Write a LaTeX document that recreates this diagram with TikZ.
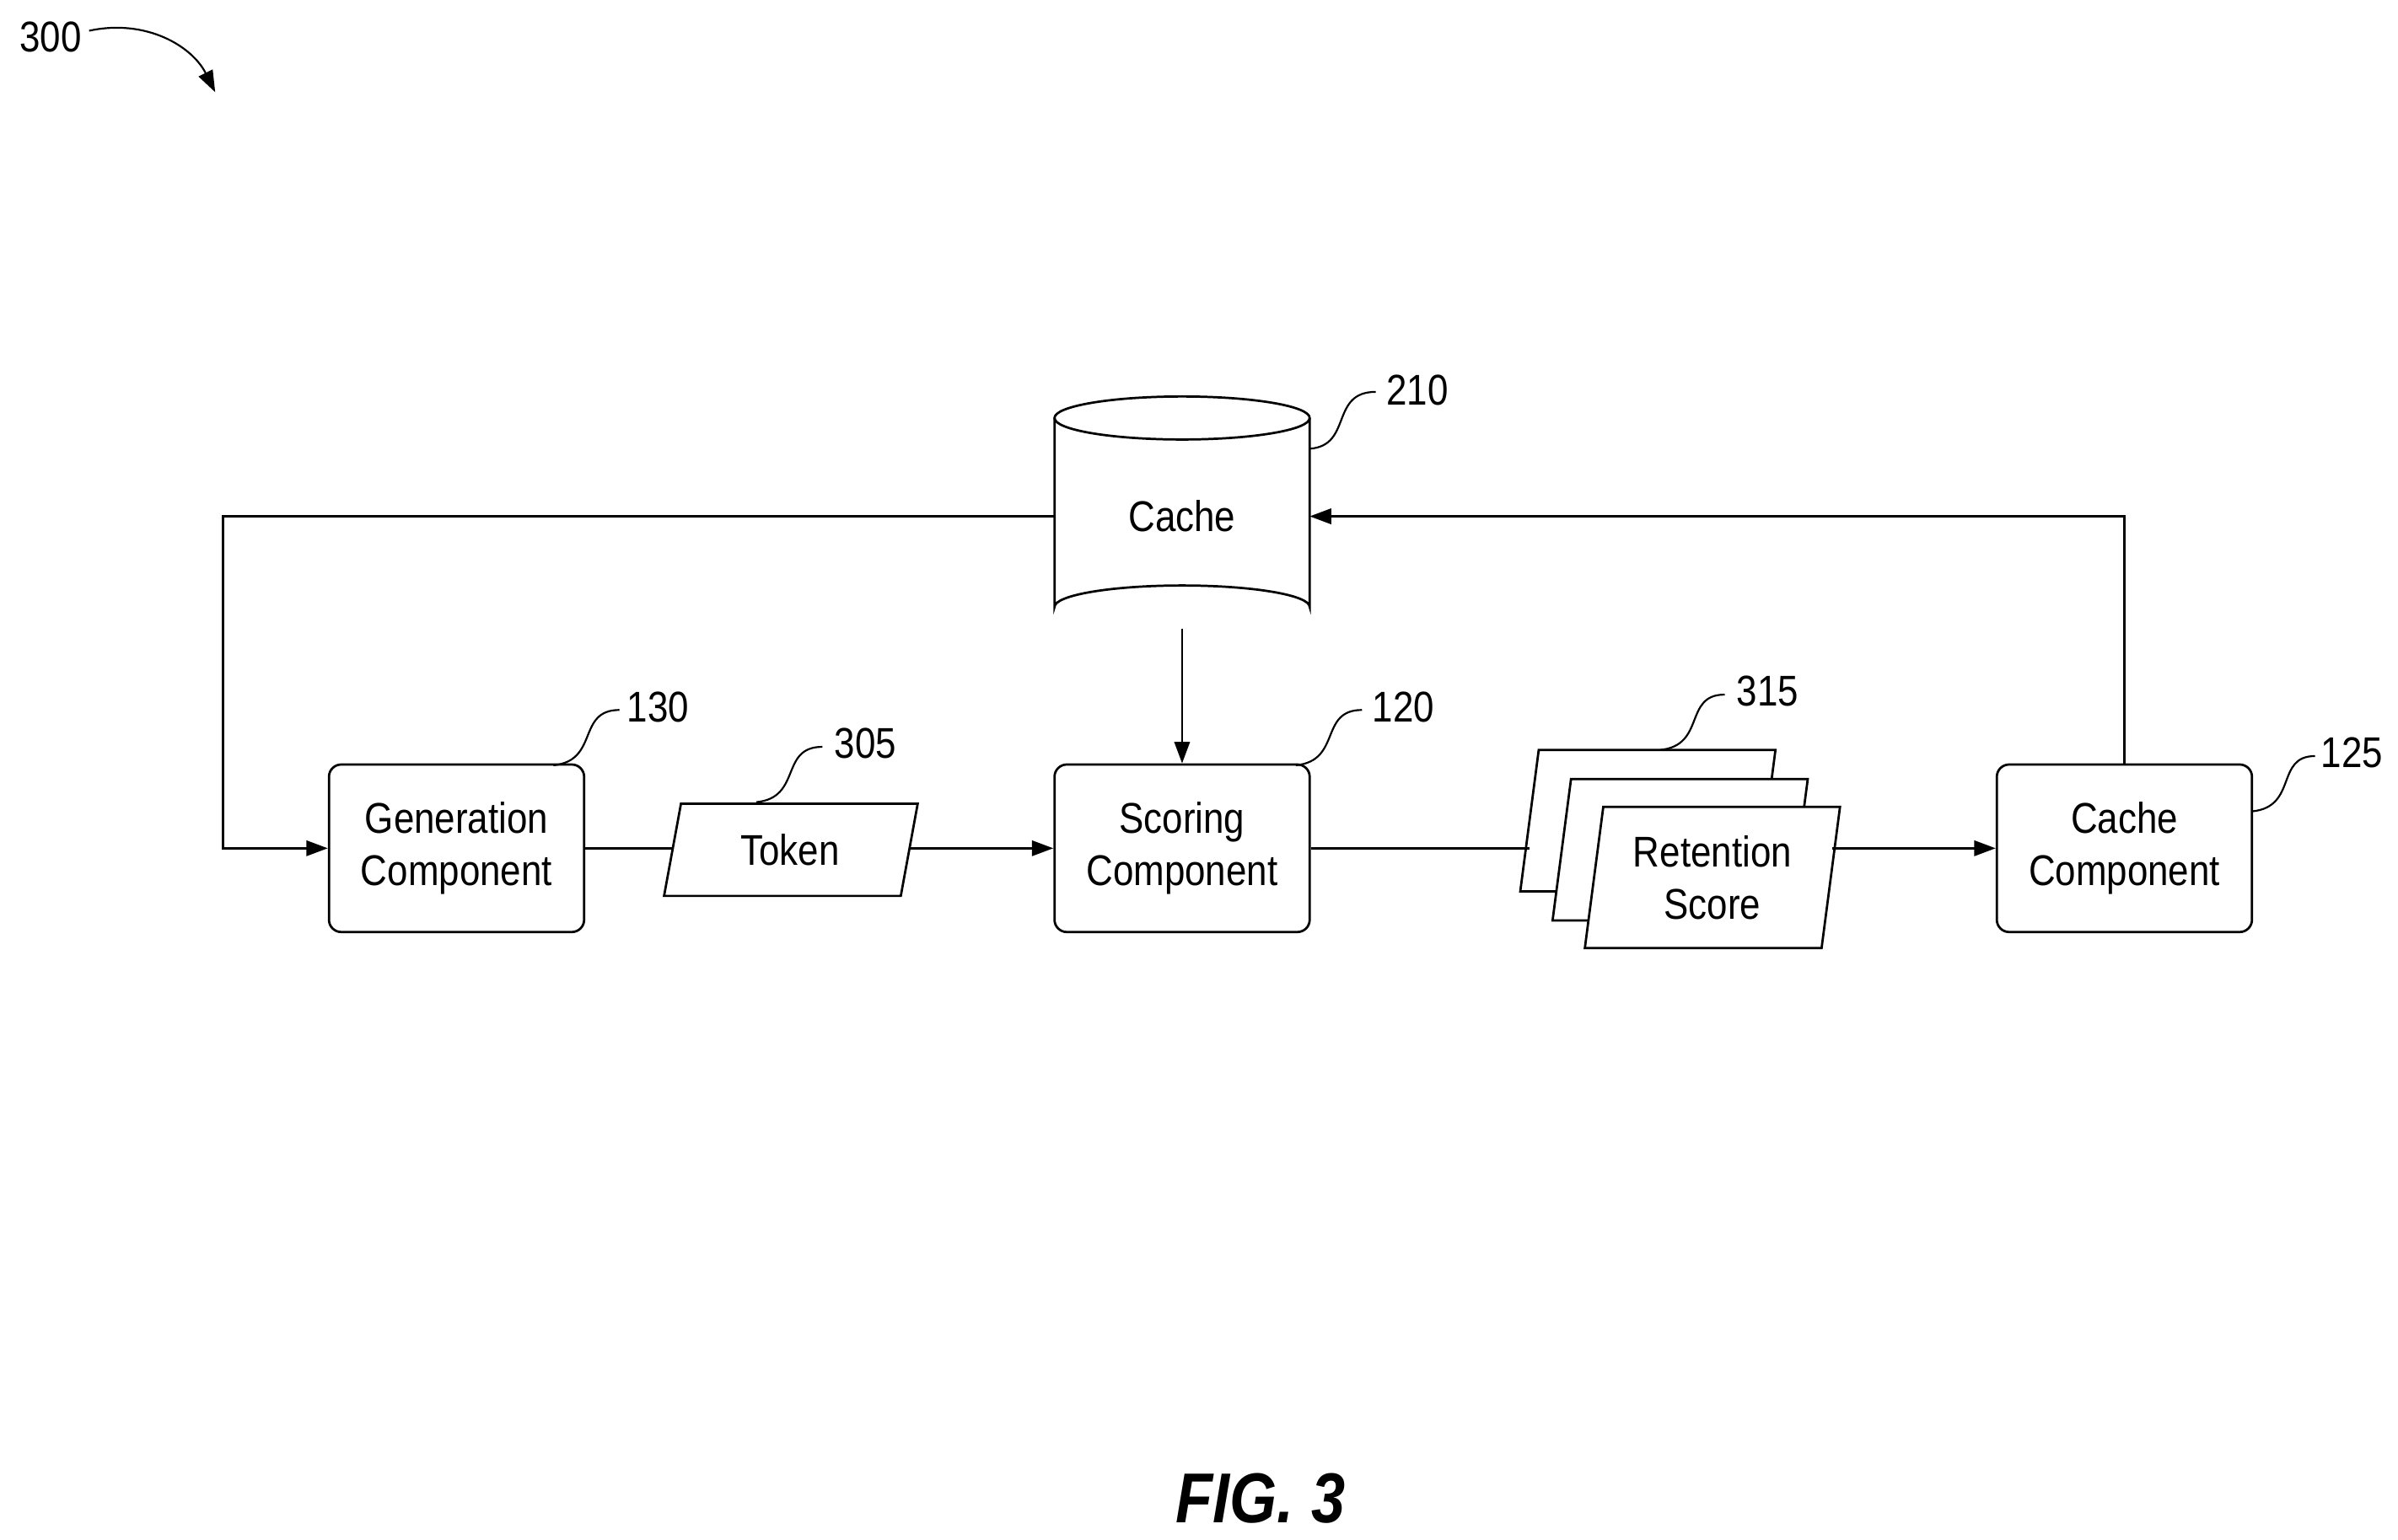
\documentclass[tikz,border=0pt]{standalone}
\usepackage{fontspec}
\setmainfont{Liberation Sans}[FakeStretch=0.86]
\usetikzlibrary{arrows.meta}
\begin{document}
\begin{tikzpicture}[x=1pt,y=-1pt,line width=1.5pt,
  box/.style={draw,rounded corners=8pt,minimum width=166pt,minimum height=109pt,align=center,font=\fontsize{28}{34}\selectfont,inner sep=0pt},
  lbl/.style={font=\fontsize{28}{34}\selectfont},
  arr/.style={-{Triangle[length=14pt,width=10pt]}},
  lead/.style={line width=1.2pt}]
\useasboundingbox (0,0) rectangle (1560,1002);
% 300
\node[lbl] (n300) at (33,24) {300};
\draw[lead,-{Triangle[length=14pt,width=10pt]}] (58,20) .. controls (95,12) and (125,30) .. (140,60);
% cylinder
\draw[fill=white] (686,272) -- (686,395) arc[start angle=180,end angle=360,x radius=83,y radius=14] -- (852,272);
\draw (769,272) ellipse[x radius=83,y radius=14];
\node[lbl] (cache) at (769,336) {Cache};
\coordinate (cacheL) at (686,336);
\coordinate (cacheR) at (852,336);
\coordinate (cacheB) at (769,409);
\node[lbl] (n210) at (922,254) {210};
\draw[lead] (852,292) .. controls (880,290) and (865,255) .. (895,255);
% boxes
\node[box] (gen) at (297,552) {Generation\\Component};
\node[lbl] (n130) at (428,460) {130};
\draw[lead] (360,498) .. controls (390,495) and (375,462) .. (403,462);
\node[box] (score) at (769,552) {Scoring\\Component};
\node[lbl] (n120) at (913,460) {120};
\draw[lead] (843,498) .. controls (873,495) and (858,462) .. (886,462);
\node[box] (cc) at (1382,552) {Cache\\Component};
\node[lbl] (n125) at (1530,490) {125};
\draw[lead] (1465,528) .. controls (1495,525) and (1480,492) .. (1506,492);
% token
\draw (443,523) -- (597,523) -- (586,583) -- (432,583) -- cycle;
\node[lbl] (token) at (514,553) {Token};
\coordinate (tokL) at (437,552);
\coordinate (tokR) at (592,552);
\node[lbl] (n305) at (563,484) {305};
\draw[lead] (492,522) .. controls (522,519) and (507,486) .. (535,486);
% stack
\foreach \dx/\dy in {-42/-37,-21/-18,0/0}{
  \draw[fill=white] (1043+\dx,525+\dy) -- (1197+\dx,525+\dy) -- (1185+\dx,617+\dy) -- (1031+\dx,617+\dy) -- cycle;}
\node[lbl,align=center] (ret) at (1114,571) {Retention\\Score};
\coordinate (stL) at (995,552);
\coordinate (stR) at (1192,552);
\node[lbl] (n315) at (1150,450) {315};
\draw[lead] (1080,488) .. controls (1110,485) and (1095,452) .. (1122,452);
% connectors
\draw[arr] (cacheL) -- (145,336) -- (145,552) -- (gen.west);
\draw (gen.east) -- (tokL);
\draw[arr] (tokR) -- (score.west);
\draw[arr] (cacheB) -- (score.north);
\draw (score.east) -- (stL);
\draw[arr] (stR) -- (cc.west);
\draw[arr] (cc.north) -- (1382,336) -- (cacheR);
% fig
\node[font=\fontsize{46}{50}\selectfont\bfseries\itshape] (fig) at (820,975) {FIG. 3};
\end{tikzpicture}
\end{document}
